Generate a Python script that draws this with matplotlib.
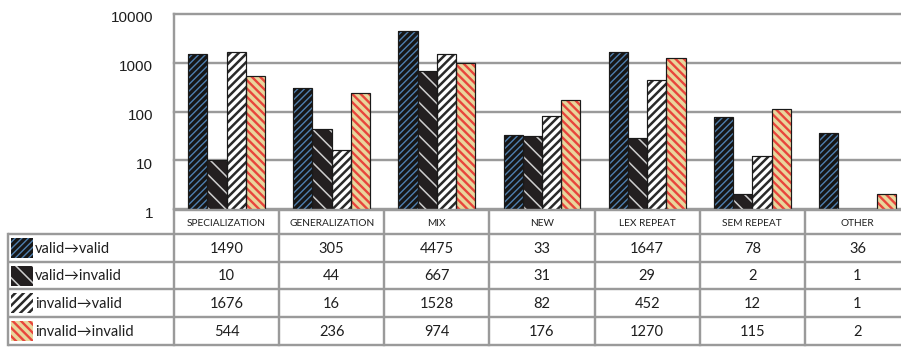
import matplotlib
matplotlib.use("Agg")
import matplotlib.pyplot as plt
from matplotlib.patches import Rectangle
from matplotlib import transforms
import numpy as np

categories = ["SPECIALIZATION", "GENERALIZATION", "MIX", "NEW",
              "LEX REPEAT", "SEM REPEAT", "OTHER"]
series_names = ["valid\u2192valid", "valid\u2192invalid",
                "invalid\u2192valid", "invalid\u2192invalid"]
valid_valid = [1490, 305, 4475, 33, 1647, 78, 36]
valid_invalid = [10, 44, 667, 31, 29, 2, 1]
invalid_valid = [1676, 16, 1528, 82, 452, 12, 1]
invalid_invalid = [544, 236, 974, 176, 1270, 115, 2]
series_values = [valid_valid, valid_invalid, invalid_valid, invalid_invalid]
ytick_values = [1, 10, 100, 1000, 10000]
ytick_labels = ["1", "10", "100", "1000", "10000"]

# (face colour, hatch colour, hatch pattern, hatch line width)
styles = [
    ("#161616", "#4f7fae", "/////", 1.0),
    ("#231f20", "#cfcfcf", "\\\\", 1.1),
    ("#ffffff", "#2a2a2a", "////", 1.8),
    ("#e9d69c", "#e8453c", "\\\\\\\\", 1.7),
]

W, H, DPI = 901, 347, 100
fig = plt.figure(figsize=(W / DPI, H / DPI), dpi=DPI)

GRAY = "#9a9a9a"
TXT = "#1e1e1e"
px = 72.0 / DPI  # one pixel in points

# bar axes in pixel geometry: x 174..910, y 14..209
x0, x1, ytop, ybot = 174, 910, 14, 209
ax = fig.add_axes([x0 / W, 1 - ybot / H, (x1 - x0) / W, (ybot - ytop) / H])
ax.set_yscale("log")
ax.set_ylim(1, 10000)
ax.set_xlim(0, len(categories))
ax.patch.set_alpha(0)
for s in ax.spines.values():
    s.set_visible(False)
ax.set_xticks([])
ax.set_yticks(ytick_values)
ax.set_yticklabels(ytick_labels)
ax.minorticks_off()
ax.tick_params(axis="y", length=0, pad=15, labelsize=11, labelcolor=TXT)
for lab in ax.get_yticklabels():
    lab.set_fontfamily("Liberation Sans")
    lab.set_transform(lab.get_transform() +
                      transforms.ScaledTranslation(0, -3 / DPI, fig.dpi_scale_trans))

for v in ytick_values:
    ax.axhline(v, color=GRAY, lw=2.4 * px, zorder=0, clip_on=False)
ax.axvline(0, color=GRAY, lw=2.4 * px, zorder=0, clip_on=False)

n = len(series_values)
bw = 0.183
xc = np.arange(len(categories)) + 0.5
for k, (vals, (fc, hc, hatch, hlw)) in enumerate(zip(series_values, styles)):
    xs = xc + (k - (n - 1) / 2) * bw
    with plt.rc_context({"hatch.linewidth": hlw}):
        bars = ax.bar(xs, vals, width=bw, facecolor=fc,
                      edgecolor=hc, hatch=hatch, linewidth=0, zorder=2)
        for b in bars:
            if hasattr(b, "set_hatch_linewidth"):
                b.set_hatch_linewidth(hlw)
    ax.bar(xs, vals, width=bw, fill=False,
           edgecolor="#1a1a1a", linewidth=1.2 * px, zorder=3)

# table drawn in pixel coordinates on an overlay
ov = fig.add_axes([0, 0, 1, 1])
ov.set_xlim(0, W)
ov.set_ylim(H, 0)
ov.axis("off")
ov.patch.set_alpha(0)
bt = transforms.blended_transform_factory(ax.transData, ov.transData)

row_edges = [210, 234, 262, 289, 317, 345]
lw_t = 2.4 * px
# header top line across the category columns
ov.plot([0, len(categories)], [row_edges[0]] * 2, color=GRAY, lw=lw_t,
        transform=bt, solid_capstyle="butt")
for y in row_edges[1:]:
    ov.plot([8, W], [y, y], color=GRAY, lw=lw_t, solid_capstyle="butt")
ov.plot([8, 8], [row_edges[1], row_edges[-1]], color=GRAY, lw=lw_t)
for i in range(len(categories) + 1):
    ov.plot([i, i], [row_edges[0], row_edges[-1]], color=GRAY, lw=lw_t,
            transform=bt)

font = ["Lato", "DejaVu Sans"]
for i, cat in enumerate(categories):
    ov.text(i + 0.5, (row_edges[0] + row_edges[1]) / 2 + 1, cat, transform=bt,
            ha="center", va="center", fontsize=7.3, color=TXT, family=font)
for r, (name, vals, (fc, hc, hatch, hlw)) in enumerate(zip(series_names, series_values, styles)):
    yc = (row_edges[r + 1] + row_edges[r + 2]) / 2
    for i, v in enumerate(vals):
        ov.text(i + 0.5, yc + 1, str(v), transform=bt, ha="center", va="center",
                fontsize=10.5, color=TXT, family=font)
    with plt.rc_context({"hatch.linewidth": hlw}):
        sw = Rectangle((11, yc - 10), 22, 20, facecolor=fc, edgecolor=hc,
                       hatch=hatch, linewidth=0)
        if hasattr(sw, "set_hatch_linewidth"):
            sw.set_hatch_linewidth(hlw)
        ov.add_patch(sw)
    ov.text(35, yc + 1, name, ha="left", va="center", fontsize=10.5,
            color=TXT, family=font)

fig.savefig("out.png", dpi=DPI)
